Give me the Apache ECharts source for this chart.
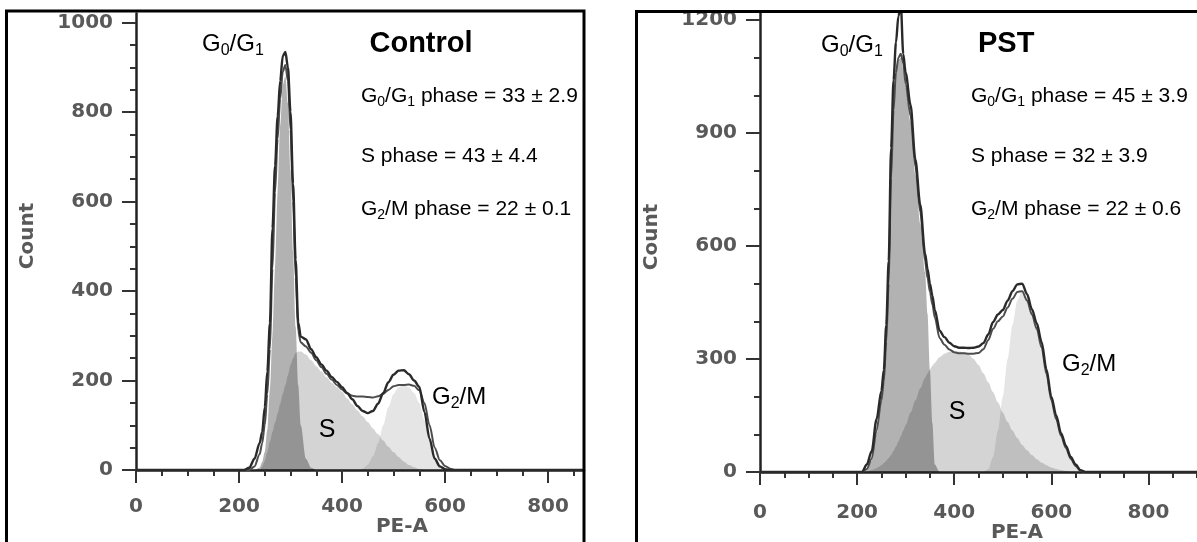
<!DOCTYPE html>
<html>
<head>
<meta charset="utf-8">
<title>Cell cycle histograms</title>
<script src="https://cdn.jsdelivr.net/npm/echarts@6/dist/echarts.min.js"></script>
<style>
  html, body { margin: 0; padding: 0; background: #fff; }
  #main { width: 1197px; height: 542px; }
</style>
</head>
<body>
<div id="main"></div>
<script>
// ---- Control panel (PE-A channel vs count) ----
const ctrlPE = [0, 200, 210, 220, 230, 240,
  245, 250, 255, 260, 265, 270, 275, 280, 285, 290, 295, 300, 305, 310, 315, 320,
  330, 340, 350, 360, 370, 380, 390, 400, 410, 420, 430, 440, 450, 460, 470, 480,
  490, 500, 510, 520, 530, 540, 550, 560, 570, 580, 590, 600, 610, 620,
  640, 870];
const ctrlRunA = [0, 0, 0, 5, 25, 60,
  85, 140, 220, 328, 540, 680, 790, 870, 925, 934, 900, 800, 640, 470, 330, 298,
  292, 270, 252, 236, 222, 208, 197, 185, 172, 158, 143, 132, 127, 132, 148, 172,
  196, 213, 222, 223, 214, 200, 186, 130, 70, 25, 8, 2, 0, 0,
  0, 0];
const ctrlRunB = [0, 0, 0, 0, 8, 35,
  60, 100, 170, 270, 450, 620, 740, 830, 890, 905, 870, 760, 600, 430, 310, 285,
  276, 262, 245, 230, 215, 202, 190, 180, 171, 166, 164, 164, 163, 162, 165, 170,
  179, 187, 190, 190, 191, 188, 178, 150, 100, 50, 22, 9, 3, 0,
  0, 0];
const ctrlG0G1 = [0, 0, 0, 0, 0, 5,
  18, 40, 90, 180, 300, 450, 620, 770, 860, 880, 820, 670, 490, 320, 190, 100,
  25, 5, 0, 0, 0, 0, 0, 0, 0, 0, 0, 0, 0, 0, 0, 0,
  0, 0, 0, 0, 0, 0, 0, 0, 0, 0, 0, 0, 0, 0,
  0, 0];
const ctrlS = [0, 0, 0, 0, 0, 0,
  8, 20, 40, 64, 85, 106, 127, 148, 170, 190, 212, 235, 250, 262, 265, 265,
  258, 245, 232, 220, 207, 195, 185, 175, 160, 147, 133, 120, 107, 93, 80, 66,
  52, 40, 29, 19, 11, 6, 2, 0, 0, 0, 0, 0, 0, 0,
  0, 0];
const ctrlG2M = [0, 0, 0, 0, 0, 0,
  0, 0, 0, 0, 0, 0, 0, 0, 0, 0, 0, 0, 0, 0, 0, 0,
  0, 0, 0, 0, 0, 0, 0, 0, 0, 0, 0, 3, 12, 30, 60, 100,
  140, 170, 185, 190, 185, 172, 150, 112, 68, 32, 12, 3, 0, 0,
  0, 0];

// ---- PST panel ----
const pstPE = [0, 200, 210, 220, 230, 240, 250,
  255, 260, 265, 270, 275, 280, 285, 290, 295, 300,
  310, 320, 330, 340,
  345, 350, 355, 360,
  370, 380, 390, 400, 410, 420, 430, 440, 450, 460,
  470, 480, 490, 500, 510, 520, 530, 540, 550, 560,
  570, 580, 590, 600, 610, 620, 630, 640, 650, 660,
  670, 680,
  900];
const pstRunA = [0, 0, 0, 20, 55, 140, 215,
  271, 390, 560, 860, 1040, 1140, 1210, 1240, 1110, 1060,
  975, 830, 710, 580,
  540, 500, 468, 430,
  375, 358, 343, 334, 330, 330, 329, 330, 333, 342,
  365, 398, 418, 430, 455, 480, 498, 500, 472, 432,
  395, 345, 272, 200, 150, 103, 70, 40, 20, 5,
  0, 0,
  0];
const pstRunB = [0, 0, 0, 8, 35, 110, 190,
  240, 345, 500, 780, 960, 1060, 1100, 1110, 1085, 1030,
  945, 810, 690, 560,
  515, 478, 445, 410,
  355, 338, 325, 318, 315, 315, 314, 314, 316, 326,
  350, 380, 400, 413, 437, 460, 478, 480, 455, 418,
  380, 330, 260, 190, 140, 96, 64, 35, 16, 3,
  0, 0,
  0];
const pstG0G1 = [0, 0, 0, 5, 30, 100, 190,
  240, 350, 520, 800, 980, 1060, 1095, 1100, 1070, 1020,
  930, 790, 660, 530,
  420, 270, 130, 20,
  0, 0, 0, 0, 0, 0, 0, 0, 0, 0,
  0, 0, 0, 0, 0, 0, 0, 0, 0, 0,
  0, 0, 0, 0, 0, 0, 0, 0, 0, 0,
  0, 0,
  0];
const pstS = [0, 0, 0, 0, 5, 10, 18,
  24, 30, 37, 45, 56, 68, 81, 95, 110, 125,
  158, 190, 222, 250,
  262, 272, 282, 290,
  305, 314, 319, 320, 320, 318, 312, 300, 284, 262,
  238, 212, 185, 158, 133, 110, 90, 72, 58, 45,
  34, 25, 18, 12, 8, 5, 3, 1, 0, 0,
  0, 0,
  0];
const pstG2M = [0, 0, 0, 0, 0, 0, 0,
  0, 0, 0, 0, 0, 0, 0, 0, 0, 0,
  0, 0, 0, 0,
  0, 0, 0, 0,
  0, 0, 0, 0, 0, 0, 0, 0, 0, 0,
  8, 40, 110, 200, 300, 390, 455, 482, 462, 420,
  375, 322, 258, 190, 140, 95, 62, 35, 16, 4,
  0, 0,
  0];

// tick labels
const ctrlXTicks = [0, 200, 400, 600, 800];
const ctrlYTicks = [0, 200, 400, 600, 800, 1000];
const pstXTicks = [0, 200, 400, 600, 800];
const pstYTicks = [0, 300, 600, 900, 1200];

function minorTicks(step, max, majors) {
  const out = [];
  for (let v = step; v <= max; v += step) {
    if (majors.indexOf(v) < 0) out.push(v);
  }
  return out;
}

function pairs(xs, ys) {
  return xs.map((x, i) => [x, ys[i]]);
}

const tickFont = {
  fontFamily: '"DejaVu Sans"', fontWeight: 'bold', fontSize: 20, color: '#595959',
  formatter: v => String(v)
};
const tickLine = { color: '#333', width: 2 };

function majorX(grid, max, ticks, margin) {
  return {
    type: 'value', gridIndex: grid, min: 0, max: max, interval: 200,
    axisLine: { show: true, onZero: false, lineStyle: { color: '#222', width: 2.5 } },
    axisTick: { show: true, length: 13, lineStyle: tickLine, customValues: ticks },
    axisLabel: Object.assign({ margin: margin, customValues: ticks }, tickFont),
    splitLine: { show: false }
  };
}
function majorY(grid, max, ticks, interval) {
  return {
    type: 'value', gridIndex: grid, min: 0, max: max, interval: interval,
    axisLine: { show: true, onZero: false, lineStyle: { color: '#222', width: 2.5 } },
    axisTick: { show: true, length: 14, lineStyle: tickLine, customValues: ticks },
    axisLabel: Object.assign({ margin: 23, customValues: ticks }, tickFont),
    splitLine: { show: false }
  };
}
function minorAxis(grid, max, values, pos) {
  return {
    type: 'value', gridIndex: grid, min: 0, max: max, position: pos,
    axisLine: { show: false },
    axisTick: { show: true, length: 6, lineStyle: tickLine, customValues: values },
    axisLabel: { show: false },
    splitLine: { show: false }
  };
}

function fillSeries(axis, xs, ys, alpha) {
  return {
    type: 'line', xAxisIndex: axis, yAxisIndex: axis,
    data: pairs(xs, ys), smooth: 0.3, smoothMonotone: 'x',
    symbol: 'none', silent: true, z: 1,
    lineStyle: { width: 0 },
    areaStyle: { color: 'rgba(0,0,0,' + alpha + ')', opacity: 1 }
  };
}
function runSeries(axis, xs, ys, color, width) {
  return {
    type: 'line', xAxisIndex: axis, yAxisIndex: axis,
    data: pairs(xs, ys), smooth: 0.3, smoothMonotone: 'x',
    symbol: 'none', silent: true, z: 3,
    lineStyle: { color: color, width: width }
  };
}

const sans = '"Liberation Sans", Arial, sans-serif';

function labelG(x, y, a, b, size, subSize, tail) {
  return {
    type: 'text', x: x, y: y, z: 50,
    style: {
      text: '{m|G}{s|' + a + '}{m|/' + b + '}' + (tail || ''),
      verticalAlign: 'middle', align: 'left',
      rich: {
        m: { fontFamily: sans, fontSize: size, lineHeight: size + 6, fill: '#000' },
        s: { fontFamily: sans, fontSize: subSize, lineHeight: subSize + 4, verticalAlign: 'bottom', fill: '#000' }
      }
    }
  };
}
function phaseLine(x, y, head, value) {
  // head: array of [text, isSub]
  let t = '';
  head.forEach(p => { t += (p[1] ? '{s|' : '{m|') + p[0] + '}'; });
  t += '{m|' + value + '}';
  return {
    type: 'text', x: x, y: y, z: 50,
    style: {
      text: t, verticalAlign: 'middle', align: 'left',
      rich: {
        m: { fontFamily: sans, fontSize: 21, lineHeight: 27, fill: '#000' },
        s: { fontFamily: sans, fontSize: 14, lineHeight: 18, verticalAlign: 'bottom', fill: '#000' }
      }
    }
  };
}
function plain(x, y, text, font, align, color, rot) {
  return {
    type: 'text', x: x, y: y, z: 50, rotation: rot || 0,
    style: { text: text, font: font, align: align, verticalAlign: 'middle', fill: color }
  };
}

const g01 = [['G', 0], ['0', 1], ['/G', 0], ['1', 1], [' phase = ', 0]];
const g2m = [['G', 0], ['2', 1], ['/M phase = ', 0]];
const axisFont = 'bold 20px "DejaVu Sans"';

const chart = echarts.init(document.getElementById('main'));
chart.setOption({
  animation: false,
  grid: [
    { left: 136, top: 470 - 1020 * 0.4475, width: 870 * 0.515, height: 1020 * 0.4475 },
    { left: 760, top: 472 - 1222 * 0.3767, width: 900 * 0.4975, height: 1222 * 0.3767 }
  ],
  xAxis: [
    majorX(0, 870, ctrlXTicks, 27),
    minorAxis(0, 870, minorTicks(50, 870, ctrlXTicks), 'bottom'),
    majorX(1, 900, pstXTicks, 31),
    minorAxis(1, 900, minorTicks(50, 900, pstXTicks), 'bottom')
  ],
  yAxis: [
    majorY(0, 1020, ctrlYTicks, 200),
    minorAxis(0, 1020, minorTicks(50, 1000, ctrlYTicks), 'left'),
    majorY(1, 1222, pstYTicks, 300),
    minorAxis(1, 1222, minorTicks(100, 1200, pstYTicks), 'left')
  ],
  series: [
    fillSeries(0, ctrlPE, ctrlS, 0.17),
    fillSeries(0, ctrlPE, ctrlG2M, 0.1),
    fillSeries(0, ctrlPE, ctrlG0G1, 0.3),
    runSeries(0, ctrlPE, ctrlRunB, '#4d4d4d', 2),
    runSeries(0, ctrlPE, ctrlRunA, '#2a2a2a', 2.4),
    fillSeries(2, pstPE, pstS, 0.17),
    fillSeries(2, pstPE, pstG2M, 0.1),
    fillSeries(2, pstPE, pstG0G1, 0.3),
    runSeries(2, pstPE, pstRunB, '#4d4d4d', 2),
    runSeries(2, pstPE, pstRunA, '#2a2a2a', 2.4)
  ],
  graphic: [
    { type: 'rect', z: 100, shape: { x: 6.5, y: 11, width: 577.5, height: 600 },
      style: { fill: 'none', stroke: '#000', lineWidth: 3 } },
    { type: 'rect', z: 100, shape: { x: 636.5, y: 11.5, width: 700, height: 600 },
      style: { fill: 'none', stroke: '#000', lineWidth: 3 } },

    labelG(202, 44, '0', 'G', 24, 16, '{s|1}'),
    plain(369.5, 44, 'Control', 'bold 29px ' + sans, 'left', '#000'),
    phaseLine(361, 96, g01, '33 ± 2.9'),
    phaseLine(361, 156, [['S phase = ', 0]], '43 ± 4.4'),
    phaseLine(361, 209, g2m, '22 ± 0.1'),
    plain(327, 430, 'S', '25px ' + sans, 'center', '#000'),
    labelG(432, 397, '2', 'M', 24, 16),
    plain(402, 527, 'PE-A', axisFont, 'center', '#595959'),
    plain(28, 236, 'Count', axisFont, 'center', '#595959', Math.PI / 2),

    labelG(821, 45, '0', 'G', 24, 16, '{s|1}'),
    plain(978, 44, 'PST', 'bold 29px ' + sans, 'left', '#000'),
    phaseLine(971, 96, g01, '45 ± 3.9'),
    phaseLine(971, 156, [['S phase = ', 0]], '32 ± 3.9'),
    phaseLine(971, 209, g2m, '22 ± 0.6'),
    plain(957, 412, 'S', '25px ' + sans, 'center', '#000'),
    labelG(1062, 364, '2', 'M', 24, 16),
    plain(1017, 533, 'PE-A', axisFont, 'center', '#595959'),
    plain(652, 237, 'Count', axisFont, 'center', '#595959', Math.PI / 2)
  ]
});
</script>
</body>
</html>
